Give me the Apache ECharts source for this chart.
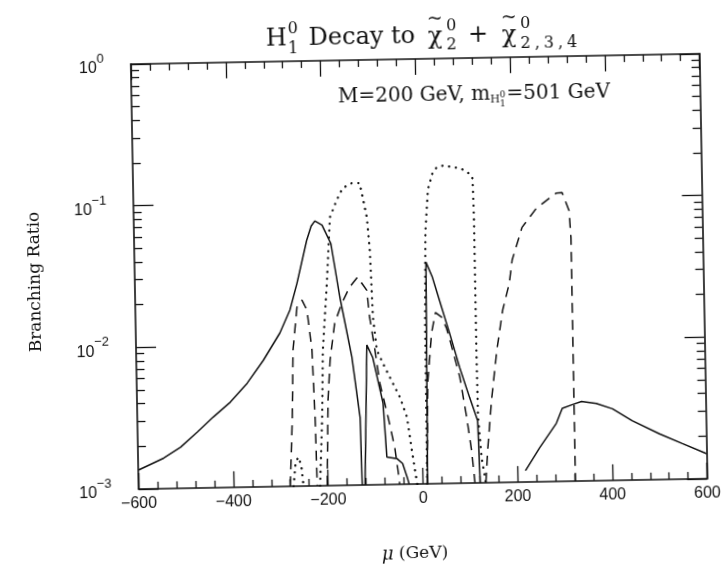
<!DOCTYPE html>
<html><head><meta charset="utf-8">
<script src="https://cdn.jsdelivr.net/npm/echarts@6/dist/echarts.min.js"></script>
<style>
html,body{margin:0;padding:0;background:#fff;overflow:hidden}
#main{width:723px;height:580px;transform:rotate(-1.05deg);transform-origin:361.5px 290px;background:#fff}
</style>
</head><body><div id="main"></div>
<script>
// ---- data (mu in GeV, branching ratio) ----
const xTicks = [-600, -400, -200, 0, 200, 400, 600];
const yDecades = [0.001, 0.01, 0.1, 1];

// solid curve segments
const solidA = [[-600,1.36e-3],[-546,1.64e-3],[-510,1.95e-3],[-474,2.48e-3],[-440,3.15e-3],[-403,4.0e-3],[-367,5.4e-3],[-332,7.8e-3],[-296,0.0121],[-274,0.0175],[-258,0.027],[-236,0.054],[-226,0.068],[-218,0.074],[-203,0.069],[-185,0.051],[-168,0.0212],[-145,8.0e-3],[-130,3.0e-3],[-128,1e-3]];
const solidB = [[-122,1e-3],[-113,9.7e-3],[-101,7.9e-3],[-91,5.45e-3],[-81,3.75e-3],[-75,1.56e-3],[-54,1.52e-3],[-42,1.4e-3],[-33,1.12e-3],[-29,1e-3]];
const solidC = [[10,1e-3],[15,0.0366],[28,0.0286],[42,0.0196],[62,0.0115],[82,6.56e-3],[102,4.0e-3],[118,2.75e-3],[121,1e-3]];
const solidD = [[217,1.2e-3],[248,1.74e-3],[284,2.57e-3],[297,3.27e-3],[319,3.47e-3],[338,3.63e-3],[369,3.5e-3],[403,3.2e-3],[444,2.62e-3],[501,2.1e-3],[549,1.78e-3],[600,1.5e-3]];

// dotted curve segments
const dottedA = [[-273,1e-3],[-268,1.45e-3],[-262,1.6e-3],[-256,1.4e-3],[-252,1e-3]];
const dottedB = [[-217,1e-3],[-210,3.04e-3],[-206,9.0e-3],[-195,0.0268],[-186,0.078],[-171,0.103],[-158,0.125],[-139,0.135],[-122,0.135],[-116,0.107],[-108,0.077],[-103,0.045],[-99,0.0152],[-92,8.9e-3],[-80,7.2e-3],[-60,5.2e-3],[-45,4.1e-3],[-31,2.96e-3],[-22,1.73e-3],[-12,1e-3]];
const dottedC = [[9,1e-3],[11,0.014],[15,0.06],[22,0.12],[32,0.155],[41,0.17],[57,0.176],[74,0.17],[91,0.167],[106,0.156],[116,0.145],[117,0.122],[118,0.071],[118,0.042],[118,0.024],[118,8.6e-3],[119,2.9e-3],[125,1.5e-3],[133,1e-3]];

// dashed curve segments
const dashedA = [[-280,1e-3],[-273,3.07e-3],[-269,9.1e-3],[-259,0.0183],[-248,0.0205],[-238,0.0174],[-229,9.1e-3],[-225,3.05e-3],[-223,1e-3]];
const dashedB = [[-202,1e-3],[-197,4.0e-3],[-191,7.7e-3],[-180,0.014],[-164,0.0193],[-147,0.025],[-130,0.0293],[-111,0.0236],[-106,0.0152],[-96,8.9e-3],[-87,5.2e-3],[-71,3.0e-3],[-58,1.82e-3],[-52,1.25e-3],[-49,1e-3]];
const dashedC = [[9,1e-3],[14,5.1e-3],[24,0.0115],[33,0.0161],[46,0.0149],[56,0.0124],[68,8.7e-3],[82,5.6e-3],[95,2.9e-3],[104,1.7e-3],[110,1e-3]];
const dashedD = [[133,1e-3],[138,1.69e-3],[148,3.8e-3],[161,8.5e-3],[175,0.0164],[190,0.0253],[197,0.037],[219,0.0626],[250,0.085],[271,0.096],[292,0.108],[305,0.109],[319,0.081],[322,0.052],[322,0.011],[322,1e-3]];

// ---- styling / layout ----
const INK = '#111';
const SERIF = '"DejaVu Serif", serif';
const SANS = '"Liberation Sans", Arial, sans-serif';
const S = Math.sin(1.05 * Math.PI / 180);
// convert a position seen in the (tilted) reference to the un-rotated page frame
function U(x, y) { const dx = x - 361.5, dy = y - 290; return [361.5 + dx - S * dy, 290 + S * dx + dy]; }

const yMinor = [];
for (let d = 0; d < 3; d++) for (let m = 2; m <= 9; m++) yMinor.push(+(m * yDecades[d]).toPrecision(3));

const STY = {
  solid: { color: INK, width: 1.5, type: 'solid' },
  dashed: { color: INK, width: 1.5, type: [10, 7] },
  dotted: { color: INK, width: 2.3, type: [0.1, 6.8], cap: 'round' }
};
function mk(data, kind) {
  return { type: 'line', data: data, xAxisIndex: 0, yAxisIndex: 0, symbol: 'none', showSymbol: false,
    silent: true, animation: false, clip: true, lineStyle: STY[kind], z: 3 };
}

const ctx = document.createElement('canvas').getContext('2d');
function tw(t, fs) { ctx.font = fs + 'px ' + SERIF; return ctx.measureText(t).width; }
function txt(t, fs, x, y) {
  return { type: 'text', x: x, y: y, silent: true, z: 10,
    style: { text: t, font: fs + 'px ' + SERIF, fill: INK, align: 'left', verticalAlign: 'middle' } };
}

const graphics = [];
// Title: H_1^0 Decay to chi~_2^0 + chi~^0_{2,3,4}
(function () {
  const F = 24, f = 16;
  const parts = [];
  let x = 0;
  parts.push(['H', F, x, 0]); x += tw('H', F) + 1;
  parts.push(['0', f, x, -10]); parts.push(['1', f, x, 10]); x += tw('0', f);
  x += tw(' ', F) + 3;
  parts.push(['Decay to', F, x, 0]); x += tw('Decay to ', F) + 5;
  const c1 = x; parts.push(['χ', F, x, 1]); x += tw('χ', F) + 4;
  parts.push(['~', 19, c1 + (tw('χ', F) - tw('~', 19)) / 2, -18]);
  parts.push(['0', f, x, -10]); parts.push(['2', f, x, 9]); x += tw('0', f);
  x += tw(' ', F) + 4;
  parts.push(['+', F, x, 0]); x += tw('+ ', F) + 6;
  const c2 = x; parts.push(['χ', F, x, 1]); x += tw('χ', F) + 4;
  parts.push(['~', 19, c2 + (tw('χ', F) - tw('~', 19)) / 2, -18]);
  parts.push(['0', f, x, -11]);
  ['2', ',', '3', ',', '4'].forEach(ch => { parts.push([ch, f, x, 9]); x += tw(ch, f) + 4; });
  const o = U(266, 40);
  parts.forEach(p => graphics.push(txt(p[0], p[1], o[0] + p[2], o[1] + p[3])));
})();
// Annotation: M=200 GeV, m_{H_1^0}=501 GeV
(function () {
  const F = 20;
  const parts = [];
  let x = 0;
  parts.push(['M=200 GeV, m', F, x, 0]); x += tw('M=200 GeV, m', F);
  parts.push(['H', 11, x, 6]); x += tw('H', 11);
  parts.push(['0', 9, x, 1]); parts.push(['1', 9, x, 10]); x += tw('0', 9) + 1;
  parts.push(['=501 GeV', F, x, 0]); x += tw('=501 GeV', F);
  const o = U(474 - x / 2, 97);
  parts.forEach(p => graphics.push(txt(p[0], p[1], o[0] + p[2], o[1] + p[3])));
})();
// axis names
(function () {
  const a = U(35, 282);
  graphics.push({ type: 'text', x: a[0], y: a[1], rotation: Math.PI / 2, silent: true,
    style: { text: 'Branching Ratio', font: '17px ' + SERIF, fill: INK, align: 'center', verticalAlign: 'middle' } });
  const b = U(415, 554);
  graphics.push({ type: 'text', x: b[0], y: b[1], silent: true,
    style: { text: '{m|μ} (GeV)', font: '17px ' + SERIF, fill: INK, align: 'center', verticalAlign: 'middle',
      rich: { m: { font: 'italic 18px ' + SERIF, fill: INK } } } });
})();

const tickLine = { color: INK, width: 1.3 };
const axisLine = { show: true, onZero: false, lineStyle: { color: INK, width: 1.6 } };
function xAx(pos, labels) {
  return { type: 'value', position: pos, min: -600, max: 600, interval: 200,
    axisLine: axisLine, splitLine: { show: false },
    axisTick: { show: true, inside: true, length: 16, lineStyle: tickLine },
    minorTick: { show: true, splitNumber: 5, length: 7, lineStyle: tickLine },
    axisLabel: labels ? { show: true, margin: 7, fontFamily: SANS, fontSize: 16, color: INK,
      formatter: v => (v < 0 ? '−' + (-v) : String(v)),
      customValues: xTicks } : { show: false } };
}
function yAx(pos, labels) {
  return { type: 'log', logBase: 10, position: pos, min: 0.001, max: 1,
    axisLine: axisLine, splitLine: { show: false },
    axisTick: { show: true, inside: true, length: 20, lineStyle: tickLine, customValues: yDecades },
    axisLabel: labels ? { show: true, margin: 27, color: INK, customValues: yDecades,
      formatter: v => { const e = Math.round(Math.log10(v)); return '{b|10}{e|' + (e < 0 ? '−' + (-e) : e) + '}'; },
      rich: { b: { fontFamily: SANS, fontSize: 16, color: INK, lineHeight: 24, verticalAlign: 'bottom' },
              e: { fontFamily: SANS, fontSize: 13, color: INK, verticalAlign: 'top' } } } : { show: false } };
}
function yMinorAx(pos) {
  return { type: 'log', logBase: 10, position: pos, min: 0.001, max: 1,
    axisLine: { show: false, onZero: false }, splitLine: { show: false }, axisLabel: { show: false },
    axisTick: { show: true, inside: true, length: 8, lineStyle: tickLine, customValues: yMinor } };
}

const chart = echarts.init(document.getElementById('main'), null, { renderer: 'canvas' });
chart.setOption({
  animation: false,
  backgroundColor: '#fff',
  grid: { left: 135.1, top: 59.9, width: 568.5, height: 425, containLabel: false },
  xAxis: [xAx('bottom', true), xAx('top', false)],
  yAxis: [yAx('left', true), yAx('right', false), yMinorAx('left'), yMinorAx('right')],
  series: [
    mk(solidA, 'solid'), mk(solidB, 'solid'), mk(solidC, 'solid'), mk(solidD, 'solid'),
    mk(dottedA, 'dotted'), mk(dottedB, 'dotted'), mk(dottedC, 'dotted'),
    mk(dashedA, 'dashed'), mk(dashedB, 'dashed'), mk(dashedC, 'dashed'), mk(dashedD, 'dashed')
  ],
  graphic: graphics
});
</script></body></html>
